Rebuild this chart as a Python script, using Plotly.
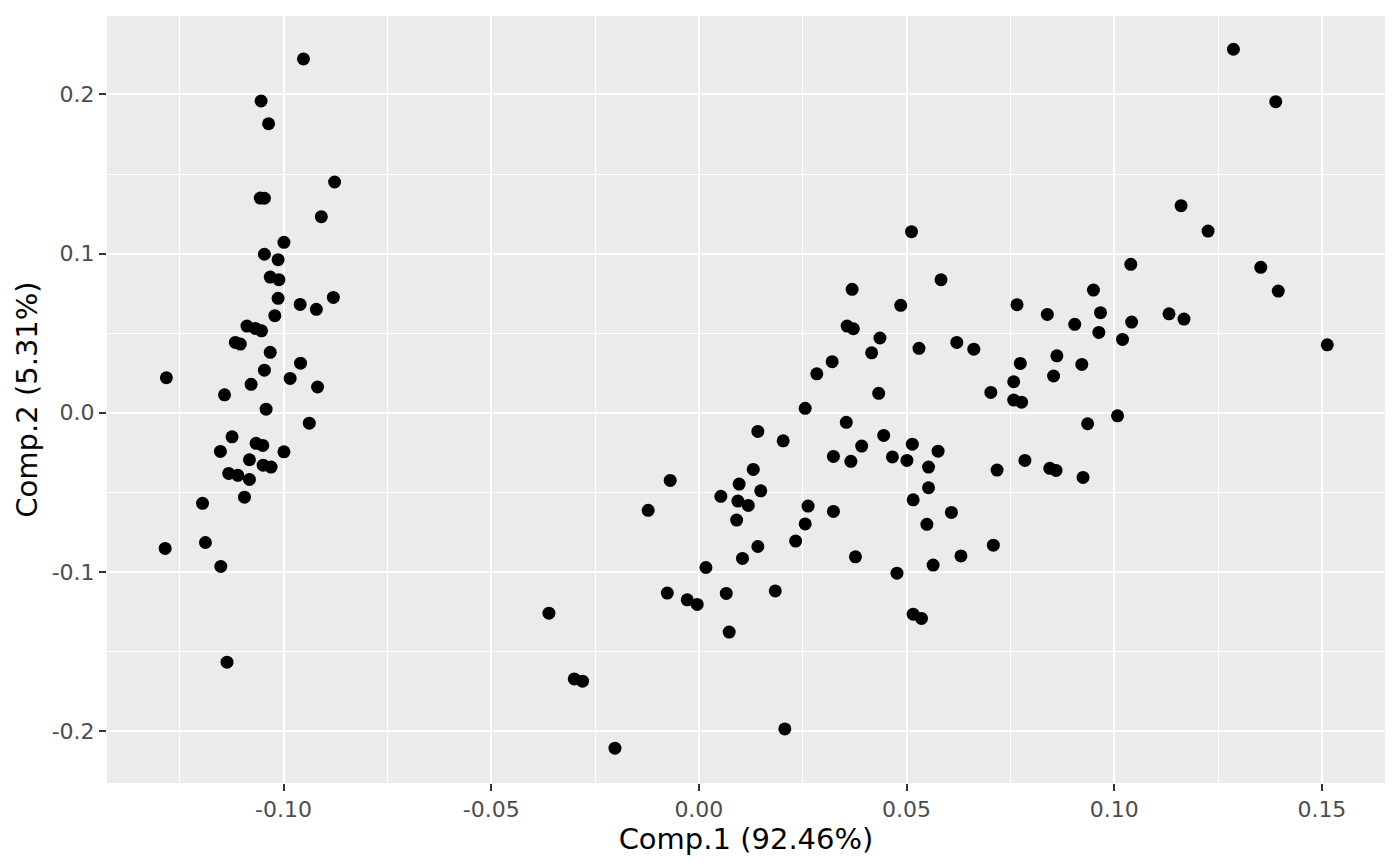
import plotly.graph_objects as go

# PCA scores (Comp.1, Comp.2)
comp1 = [
    -0.0952, -0.1054, -0.1036, -0.0877, -0.1056, -0.1046, -0.0909, -0.0999, -0.1046, -0.1013,
    -0.1032, -0.1011, -0.1013, -0.0880, -0.0960, -0.0921, -0.1021, -0.1088, -0.1068, -0.1053,
    -0.1116, -0.1104, -0.1032, -0.0959, -0.1046, -0.1282, -0.0984, -0.1078, -0.0918, -0.1142,
    -0.1042, -0.0938, -0.1124, -0.1152, -0.1066, -0.1050, -0.0999, -0.1082, -0.1049, -0.1030,
    -0.1132, -0.1110, -0.1082, -0.1094, -0.1195, -0.1188, -0.1285, -0.1151, -0.1136,
    -0.0361, -0.0300, -0.0280, -0.0202, -0.0122, -0.0076, -0.0069, -0.0028, -0.0004, 0.0017,
    0.0053, 0.0066, 0.0073, 0.0094, 0.0097, 0.0091, 0.0105, 0.0119, 0.0131, 0.0142,
    0.0142, 0.0149, 0.0184, 0.0203, 0.0207, 0.0233, 0.0256, 0.0256, 0.0263, 0.0284,
    0.0321, 0.0324, 0.0324, 0.0355, 0.0357, 0.0372, 0.0366, 0.0369, 0.0377, 0.0392,
    0.0416, 0.0433, 0.0436, 0.0445, 0.0466, 0.0477, 0.0486, 0.0501, 0.0512, 0.0514,
    0.0516, 0.0516, 0.0536, 0.0530, 0.0549, 0.0553, 0.0553, 0.0564, 0.0576, 0.0583,
    0.0608, 0.0621, 0.0631, 0.0662, 0.0703, 0.0709, 0.0718, 0.0758, 0.0758, 0.0777,
    0.0766, 0.0774, 0.0785, 0.0839, 0.0845, 0.0860, 0.0854, 0.0862, 0.0905, 0.0922,
    0.0925, 0.0936, 0.0950, 0.0963, 0.0967, 0.1008, 0.1020, 0.1040, 0.1042, 0.1132,
    0.1168, 0.1161, 0.1226, 0.1287, 0.1353, 0.1389, 0.1395, 0.1513,
]
comp2 = [
    0.2223, 0.1959, 0.1816, 0.1450, 0.1349, 0.1348, 0.1232, 0.1071, 0.0996, 0.0962,
    0.0853, 0.0836, 0.0719, 0.0725, 0.0681, 0.0650, 0.0610, 0.0545, 0.0530, 0.0515,
    0.0442, 0.0432, 0.0380, 0.0312, 0.0268, 0.0220, 0.0216, 0.0179, 0.0162, 0.0113,
    0.0023, -0.0065, -0.0151, -0.0243, -0.0192, -0.0205, -0.0245, -0.0295, -0.0329, -0.0341,
    -0.0381, -0.0393, -0.0419, -0.0530, -0.0569, -0.0815, -0.0852, -0.0965, -0.1567,
    -0.1259, -0.1672, -0.1686, -0.2107, -0.0613, -0.1133, -0.0425, -0.1175, -0.1204, -0.0972,
    -0.0525, -0.1135, -0.1378, -0.0555, -0.0448, -0.0674, -0.0915, -0.0582, -0.0356, -0.0117,
    -0.0840, -0.0490, -0.1119, -0.0176, -0.1986, -0.0806, -0.0698, 0.0028, -0.0586, 0.0245,
    0.0321, -0.0274, -0.0620, -0.0060, 0.0545, 0.0528, -0.0305, 0.0776, -0.0905, -0.0209,
    0.0377, 0.0122, 0.0470, -0.0142, -0.0277, -0.1008, 0.0675, -0.0299, 0.1138, -0.0197,
    -0.0547, -0.1265, -0.1292, 0.0405, -0.0701, -0.0341, -0.0471, -0.0957, -0.0241, 0.0836,
    -0.0626, 0.0442, -0.0899, 0.0400, 0.0128, -0.0832, -0.0360, 0.0195, 0.0080, 0.0067,
    0.0679, 0.0310, -0.0299, 0.0618, -0.0349, -0.0362, 0.0231, 0.0358, 0.0556, 0.0304,
    -0.0406, -0.0069, 0.0771, 0.0505, 0.0629, -0.0019, 0.0461, 0.0933, 0.0570, 0.0622,
    0.0589, 0.1301, 0.1142, 0.2284, 0.0914, 0.1955, 0.0765, 0.0427,
]

x_ticks = [-0.10, -0.05, 0.00, 0.05, 0.10, 0.15]
x_labels = ["-0.10", "-0.05", "0.00", "0.05", "0.10", "0.15"]
x_minor = [-0.125, -0.075, -0.025, 0.025, 0.075, 0.125]
y_ticks = [-0.2, -0.1, 0.0, 0.1, 0.2]
y_labels = ["-0.2", "-0.1", "0.0", "0.1", "0.2"]
y_minor = [-0.15, -0.05, 0.05, 0.15]

fig = go.Figure()
fig.add_trace(go.Scatter(
    x=comp1, y=comp2, mode="markers",
    marker=dict(color="black", size=13, line=dict(width=0)),
    showlegend=False,
))

axis_common = dict(
    showline=False, zeroline=False, showgrid=True,
    gridcolor="white", gridwidth=2.4,
    ticks="outside", ticklen=7, tickwidth=2.2, tickcolor="#333333",
    tickfont=dict(size=22, color="#4D4D4D", family="DejaVu Sans"),
    tickmode="array",
    automargin=False,
)

# page body has an 8px margin, so the figure is a bit smaller than the window
fig.update_layout(
    width=1384, height=850,
    margin=dict(l=99, r=7, t=8, b=75),
    paper_bgcolor="white", plot_bgcolor="#EBEBEB",
    font=dict(family="DejaVu Sans", color="black"),
    xaxis=dict(
        axis_common, range=[-0.1425, 0.1652],
        tickvals=x_ticks, ticktext=x_labels,
        minor=dict(tickmode="array", tickvals=x_minor, showgrid=True,
                   gridcolor="white", gridwidth=1.2, ticklen=0),
        title=dict(text="Comp.1 (92.46%)", font=dict(size=29, color="black"), standoff=2),
    ),
    yaxis=dict(
        axis_common, range=[-0.2326, 0.2493],
        tickvals=y_ticks, ticktext=y_labels,
        minor=dict(tickmode="array", tickvals=y_minor, showgrid=True,
                   gridcolor="white", gridwidth=1.2, ticklen=0),
        title=dict(text="Comp.2 (5.31%)", font=dict(size=29, color="black"), standoff=5),
    ),
)

fig.write_html("out.html")
